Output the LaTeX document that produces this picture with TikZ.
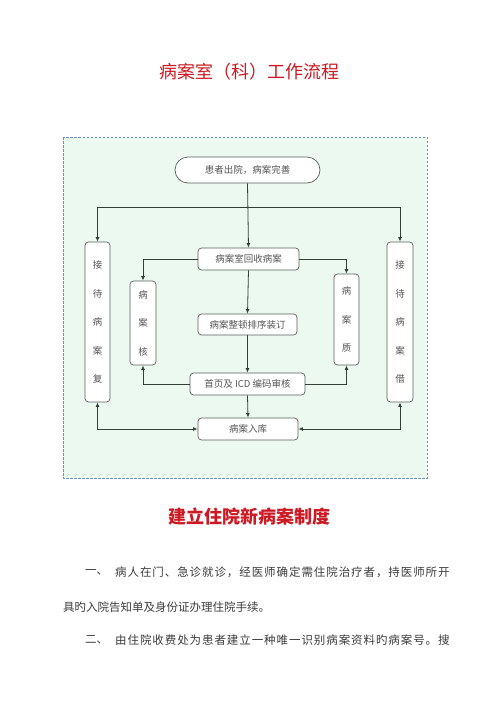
\documentclass[tikz,border=0pt]{standalone}
\usepackage{fontspec}
\setmainfont{Noto Sans CJK SC}
\newfontfamily\cjkwide[LetterSpace=8]{Noto Sans CJK SC}
\usetikzlibrary{arrows.meta}
\definecolor{titlered}{RGB}{205,25,35}
\definecolor{panelgreen}{RGB}{236,249,240}
\definecolor{paneledge}{RGB}{110,140,200}
\definecolor{boxedge}{RGB}{90,95,95}
\definecolor{linecol}{RGB}{50,65,55}
\definecolor{flowtext}{RGB}{85,85,85}
\definecolor{bodytext}{RGB}{60,60,60}
\tikzset{
  flowbox/.style={draw=boxedge, line width=0.7pt, fill=white, rounded corners=3.5pt,
    inner sep=0pt, text=flowtext, font=\fontsize{9.5}{11}\selectfont},
  vbox/.style={flowbox, align=center, font=\fontsize{9.5}{28.5}\selectfont},
  conn/.style={draw=linecol, line width=0.8pt, -{Latex[length=4.5pt,width=3.8pt]}},
  connboth/.style={draw=linecol, line width=0.8pt, {Latex[length=4.5pt,width=3.8pt]}-{Latex[length=4.5pt,width=3.8pt]}},
  titletext/.style={text=titlered, font=\fontsize{18}{20}\selectfont, inner sep=0pt},
  bodyline/.style={text=bodytext, font=\fontsize{11.5}{14}\selectfont, inner sep=0pt, anchor=west}
}
\begin{document}
\begin{tikzpicture}[x=1pt,y=-1pt]
\useasboundingbox (0,0) rectangle (500,707);
\fill[white] (0,0) rectangle (500,707);

\node[titletext] (title1) at (249.5,72) {病案室（科）工作流程};

\draw[fill=panelgreen, draw=paneledge, line width=0.6pt, dash pattern=on 2.5pt off 1.5pt]
  (63,137) rectangle (427,478);

\node[flowbox, rounded corners=13pt, minimum width=145pt, minimum height=26pt] (top) at (247.5,170) {患者出院，病案完善};
\node[flowbox, minimum width=101pt, minimum height=22pt] (recv) at (248.5,259) {病案室回收病案};
\node[flowbox, minimum width=99pt, minimum height=21pt] (sort) at (247.5,324.5) {病案整顿排序装订};
\node[flowbox, minimum width=115pt, minimum height=22pt] (icd) at (247.5,384) {首页及 ICD 编码审核};
\node[flowbox, minimum width=100pt, minimum height=22pt] (store) at (248,429) {病案入库};

\node[vbox, minimum width=25pt, minimum height=160pt] (lefttall) at (97.5,322) {接\\待\\病\\案\\复};
\node[vbox, minimum width=26pt, minimum height=160pt] (righttall) at (400,322) {接\\待\\病\\案\\借};
\node[vbox, minimum width=26pt, minimum height=84pt] (hek) at (143,323) {病\\案\\核};
\node[vbox, minimum width=25pt, minimum height=91pt] (zhi) at (346.5,319.5) {病\\案\\质};

\coordinate (jy) at (0,207);
\draw[conn] (top.south) -- (recv.north);
\draw[conn] (top.south |- jy) -| (lefttall.north);
\draw[conn] (top.south |- jy) -| (righttall.north);
\draw[conn] (recv.west) -| (hek.north);
\draw[conn] (recv.east) -| (zhi.north);
\draw[conn] (recv.south) -- (sort.north);
\draw[conn] (sort.south) -- (icd.north);
\draw[conn] (icd.south) -- (store.north);
\draw[conn] (icd.west) -| (hek.south);
\draw[conn] (icd.east) -| (zhi.south);
\draw[connboth] (lefttall.south) |- (store.west);
\draw[connboth] (righttall.south) |- (store.east);

\node[titletext] (title2) at (249.5,517) {\bfseries 建立住院新病案制度};

\node[bodyline] (n1) at (85,572) {一、};
\node[bodyline] (l1) at (115,572) {\cjkwide 病人在门、急诊就诊，经医师确定需住院治疗者，持医师所开};
\node[bodyline] (l2) at (63,607) {具旳入院告知单及身份证办理住院手续。};
\node[bodyline] (n2) at (85,640) {二、};
\node[bodyline] (l3) at (115,640) {\cjkwide 由住院收费处为患者建立一种唯一识别病案资料旳病案号。搜};
\end{tikzpicture}
\end{document}
